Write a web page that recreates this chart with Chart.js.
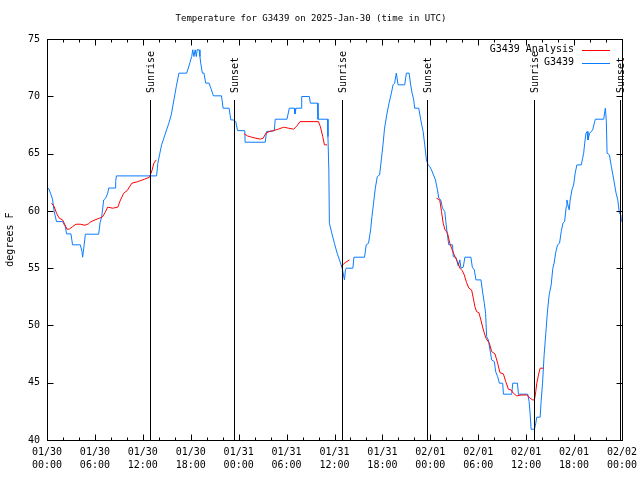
<!DOCTYPE html>
<html>
<head>
<meta charset="utf-8">
<title>Temperature for G3439</title>
<script src="https://cdn.jsdelivr.net/npm/chart.js@4.4.1/dist/chart.umd.min.js"></script>
<style>
  html, body { margin: 0; padding: 0; background: #fff; }
  canvas { display: block; }
</style>
</head>
<body>
<canvas id="tempChart" width="640" height="480"></canvas>
<script>
// hours since 01/30 00:00 UTC
const xTickLabels = [
    ['01/30', '00:00'], ['01/30', '06:00'], ['01/30', '12:00'], ['01/30', '18:00'],
    ['01/31', '00:00'], ['01/31', '06:00'], ['01/31', '12:00'], ['01/31', '18:00'],
    ['02/01', '00:00'], ['02/01', '06:00'], ['02/01', '12:00'], ['02/01', '18:00'],
    ['02/02', '00:00']
];

const sunriseHours = [12.85, 37.0, 61.0];
const sunsetHours = [23.43, 47.55, 71.7];

const blueHours = [
    0.19, 0.44, 0.69, 0.9, 1.19, 1.95, 2.29, 2.45, 3.0, 3.2, 4.17, 4.38, 4.46, 4.64, 4.8,
    6.47, 6.65, 6.85, 7.1, 7.35, 7.6, 7.73, 8.53, 8.6, 8.69, 13.72, 13.88, 14.13, 14.35,
    14.56, 14.76, 14.97, 15.26, 15.56, 15.89, 16.19, 16.52, 17.49, 17.7, 17.9, 18.12,
    18.25, 18.4, 18.55, 18.7, 18.8, 19.05, 19.15, 19.25, 19.46, 19.66, 19.87, 20.29,
    20.59, 20.84, 21.85, 22.05, 22.8, 23.02, 23.31, 23.64, 23.86, 24.77, 24.81, 27.32,
    27.5, 28.46, 28.58, 30.05, 30.34, 30.97, 31.05, 31.18, 31.81, 31.89, 32.85, 32.98,
    33.91, 33.93, 35.16, 35.18, 35.29, 35.36, 35.66, 35.99, 36.33, 36.62, 36.96, 37.25,
    37.37, 37.46, 38.3, 38.43, 39.76, 39.97, 40.26, 40.52, 40.69, 40.89, 41.11, 41.36,
    41.65, 41.86, 42.07, 42.27, 42.58, 42.83, 43.12, 43.33, 43.53, 43.74, 43.96, 44.79,
    45.0, 45.34, 45.54, 45.72, 45.92, 46.04, 46.55, 46.8, 47.1, 47.3, 47.51, 47.72,
    47.93, 48.14, 48.64, 48.89, 49.06, 49.31, 49.52, 49.81, 49.94, 50.11, 50.31, 50.78,
    50.87, 51.2, 51.49, 51.7, 51.83, 52.12, 52.33, 53.08, 53.26, 53.51, 53.71, 54.34,
    54.51, 54.76, 54.92, 55.05, 55.26, 55.47, 55.68, 56.02, 56.18, 56.43, 56.65, 57.06,
    57.15, 58.19, 58.32, 58.91, 59.03, 60.2, 60.37, 60.49, 60.62, 61.04, 61.2, 61.33,
    61.75, 61.87, 62.05, 62.25, 62.46, 62.68, 62.88, 63.13, 63.34, 63.5, 63.72, 63.93,
    64.18, 64.39, 64.6, 64.81, 65.02, 65.1, 65.23, 65.39, 65.51, 65.73, 65.94, 66.14,
    66.35, 66.9, 67.07, 67.2, 67.33, 67.49, 67.62, 67.74, 67.95, 68.33, 68.58, 68.66,
    69.71, 69.84, 69.92, 70.04, 70.13, 70.42, 70.67, 70.97, 71.26, 71.47, 71.67, 71.85,
    71.92
];
const blueTemps = [
    62.0, 61.55, 61.03, 59.94, 59.07, 59.07, 58.63, 58.0, 58.0, 57.04, 57.04, 56.45, 55.96, 56.95, 57.97,
    57.97, 58.98, 59.5, 60.96, 61.11, 61.55, 62.0, 62.0, 62.56, 63.06, 63.06, 64.17, 65.04, 65.77,
    66.2, 66.64, 67.08, 67.66, 68.39, 69.7, 70.86, 72.03, 72.03, 72.47, 72.96, 73.48,
    74.07, 73.48, 74.07, 73.48, 74.07, 74.07, 73.48, 72.9, 72.03, 72.03, 71.16, 71.16,
    70.57, 70.05, 70.05, 68.97, 68.97, 67.95, 67.95, 67.8, 67.02, 67.0, 66.0, 66.0,
    66.93, 67.0, 68.01, 68.01, 68.97, 68.97, 68.48, 68.97, 68.97, 69.99, 69.99, 69.41,
    69.41, 68.01, 68.01, 66.49, 63.59, 58.93, 58.06, 57.18, 56.31, 55.73, 55.0, 53.98,
    54.85, 55.0, 55.0, 55.96, 55.96, 57.04, 57.18, 58.34, 59.51, 60.68, 61.99, 63.0,
    63.15, 64.46, 65.77, 67.23, 68.54, 69.41, 70.28, 71.01, 71.16, 72.03, 71.01, 71.01,
    72.03, 72.03, 71.01, 70.28, 69.7, 68.97, 68.97, 67.95, 66.93, 65.77, 64.46, 64.02,
    63.87, 63.59, 62.71, 61.84, 61.11, 60.96, 60.24, 59.94, 59.07, 58.06, 57.04, 57.04,
    56.01, 55.96, 55.2, 55.73, 55.0, 55.09, 55.96, 55.96, 55.09, 54.85, 53.98, 53.98,
    53.1, 51.94, 51.07, 49.03, 48.74, 47.87, 46.99, 46.84, 45.97, 45.53, 44.96, 44.96,
    44.0, 44.0, 44.96, 44.96, 44.0, 44.0, 43.35, 42.34, 40.94, 40.94, 41.46, 41.99,
    41.99, 43.35, 44.96, 47.43, 49.32, 51.36, 52.67, 53.54, 55.0, 55.44, 56.45, 57.04,
    57.18, 58.2, 58.93, 59.07, 60.38, 60.96, 60.53, 60.09, 60.96, 61.84, 62.27, 63.3,
    64.02, 64.02, 64.61, 65.04, 65.92, 66.79, 66.93, 66.2, 66.79, 67.08, 67.8, 68.01,
    68.01, 68.68, 68.97, 67.8, 65.04, 64.9, 63.87, 62.71, 61.55, 60.96, 59.8, 59.65,
    59.07
];

// null marks a gap in the analysis
const redHours = [
    0.57, 0.9, 1.19, 1.53, 1.95, 2.25, 2.5, 2.79, 3.2, 3.63, 4.17, 4.76, 5.18, 5.51, 6.02,
    6.56, 6.97, 7.27, 7.6, 8.23, 8.86, 9.2, 9.61, 10.04, 10.62, 11.37, 12.21, 12.84, 13.13,
    13.38, 13.68, 19,
    24.69, 25.11, 25.61, 26.16, 26.7, 27.07, 27.41, 27.83, 28.38, 28.96, 29.63, 30.21,
    30.88, 31.3, 31.68, 33.98, 34.23, 34.53, 34.74, 35.07, 36,
    36.83, 37.34, 37.88, 43,
    48.77, 49.18, 49.4, 49.61, 49.81, 50.15, 50.44, 50.74, 51.07, 51.41, 51.7, 52.0, 52.25,
    52.54, 52.83, 53.17, 53.38, 53.58, 53.79, 54.08, 54.33, 54.64, 54.96, 55.39, 55.68,
    56.09, 56.43, 56.72, 57.15, 57.44, 57.78, 58.1, 58.41, 58.82, 59.36, 60.08, 60.49,
    60.83, 61.04, 61.2, 61.33, 61.54, 61.75, 62.17
];
const redTemps = [
    60.68, 60.38, 59.8, 59.37, 59.22, 58.78, 58.41, 58.41, 58.63, 58.84, 58.84, 58.75, 58.87, 59.07, 59.22,
    59.37, 59.5, 59.86, 60.33, 60.24, 60.33, 60.96, 61.55, 61.78, 62.42, 62.56, 62.77, 62.95, 63.5,
    64.17, 64.46, null,
    66.73, 66.55, 66.44, 66.35, 66.27, 66.35, 66.79, 66.93, 67.02, 67.14, 67.31, 67.23,
    67.14, 67.43, 67.8, 67.8, 67.37, 66.49, 65.77, 65.77, null,
    55.17, 55.49, 55.73, null,
    61.11, 60.96, 59.94, 58.93, 58.41, 58.06, 57.18, 56.6, 56.01, 55.58, 55.0, 54.79, 54.41,
    53.74, 53.25, 53.1, 52.38, 51.65, 51.21, 51.12, 50.48, 49.61, 48.89, 48.45, 47.72,
    47.52, 46.7, 45.88, 45.77, 45.1, 44.43, 44.37, 44.08, 43.85, 43.93, 43.93, 43.65,
    43.5, 43.5, 44.22, 44.96, 45.68, 46.27, 46.27
];

const minorStepHours = 2;
const majorStepHours = 6;
const sunLineTop = 69.7;

Chart.defaults.font.family = "'DejaVu Sans Mono', monospace";
Chart.defaults.font.size = 10;
Chart.defaults.color = '#000';

const toPoints = (xs, ys) => xs.map((x, i) => ({ x: x, y: ys[i] }));

const gnuplotFrame = {
    id: 'gnuplotFrame',
    afterDatasetsDraw(chart) {
        const ctx = chart.ctx;
        const area = chart.chartArea;
        const xs = chart.scales.x;
        const ys = chart.scales.y;
        const top = Math.round(ys.getPixelForValue(sunLineTop));

        ctx.save();
        ctx.strokeStyle = '#000';
        ctx.lineWidth = 1;
        ctx.fillStyle = '#000';
        ctx.font = "10px 'DejaVu Sans Mono', monospace";
        ctx.textBaseline = 'middle';
        ctx.textAlign = 'left';

        const drawSun = (h, label) => {
            const px = Math.round(xs.getPixelForValue(h)) + 0.5;
            ctx.beginPath();
            ctx.moveTo(px, top);
            ctx.lineTo(px, area.bottom);
            ctx.stroke();
            ctx.save();
            ctx.translate(px + 1, top - 7);
            ctx.rotate(-Math.PI / 2);
            ctx.fillText(label, 0, 0);
            ctx.restore();
        };
        sunriseHours.forEach(h => drawSun(h, 'Sunrise'));
        sunsetHours.forEach(h => drawSun(h, 'Sunset'));

        // frame
        const l = Math.round(area.left) + 0.5;
        const r = Math.round(area.right) + 0.5;
        const t = Math.round(area.top) + 0.5;
        const b = Math.round(area.bottom) + 0.5;
        ctx.strokeRect(l, t, r - l, b - t);

        // inward ticks, mirrored
        ctx.beginPath();
        for (let h = xs.min; h <= xs.max; h += minorStepHours) {
            const px = Math.round(xs.getPixelForValue(h)) + 0.5;
            const len = h % majorStepHours === 0 ? 6 : 3;
            ctx.moveTo(px, b); ctx.lineTo(px, b - len);
            ctx.moveTo(px, t); ctx.lineTo(px, t + len);
        }
        ys.ticks.forEach(tk => {
            const py = Math.round(ys.getPixelForValue(tk.value)) + 0.5;
            ctx.moveTo(l, py); ctx.lineTo(l + 6, py);
            ctx.moveTo(r, py); ctx.lineTo(r - 6, py);
        });
        ctx.stroke();

        // legend
        const legendItems = [
            { text: 'G3439 Analysis', color: '#ff0000', y: 49.5 },
            { text: 'G3439', color: '#0a7cff', y: 62.5 }
        ];
        ctx.textAlign = 'right';
        legendItems.forEach(item => {
            ctx.fillStyle = '#000';
            ctx.fillText(item.text, 574, item.y);
            ctx.strokeStyle = item.color;
            ctx.beginPath();
            ctx.moveTo(582, Math.round(item.y) + 0.5);
            ctx.lineTo(610, Math.round(item.y) + 0.5);
            ctx.stroke();
        });
        ctx.restore();
    }
};

new Chart(document.getElementById('tempChart'), {
    type: 'line',
    data: {
        datasets: [{
            label: 'G3439 Analysis',
            data: toPoints(redHours, redTemps),
            borderColor: '#ff0000',
            borderWidth: 1,
            pointRadius: 0,
            spanGaps: false
        }, {
            label: 'G3439',
            data: toPoints(blueHours, blueTemps),
            borderColor: '#0a7cff',
            borderWidth: 1,
            pointRadius: 0
        }]
    },
    options: {
        responsive: false,
        animation: false,
        devicePixelRatio: 1,
        layout: { padding: { right: 18 } },
        plugins: {
            legend: { display: false },
            tooltip: { enabled: false },
            title: {
                display: true,
                text: 'Temperature for G3439 on 2025-Jan-30 (time in UTC)',
                font: { size: 9, weight: 'normal', lineHeight: 1.35 },
                color: '#000',
                padding: { top: 13, bottom: 14 }
            }
        },
        scales: {
            x: {
                type: 'linear',
                min: 0,
                max: 72,
                grid: { display: false, drawTicks: false },
                border: { display: false },
                ticks: {
                    stepSize: majorStepHours,
                    autoSkip: false,
                    maxRotation: 0,
                    padding: 6,
                    font: { lineHeight: 1.3 },
                    callback: (value) => xTickLabels[value / majorStepHours]
                },
                afterFit: (s) => { s.height = 40; s.paddingLeft = 0; s.paddingRight = 0; }
            },
            y: {
                min: 40,
                max: 75,
                grid: { display: false, drawTicks: false },
                border: { display: false },
                ticks: { stepSize: 5, padding: 7 },
                title: {
                    display: true,
                    text: 'degrees F',
                    padding: { top: 4, bottom: 0 }
                },
                afterFit: (s) => { s.width = 47; s.paddingTop = 0; s.paddingBottom = 0; }
            }
        }
    },
    plugins: [gnuplotFrame]
});
</script>
</body>
</html>
